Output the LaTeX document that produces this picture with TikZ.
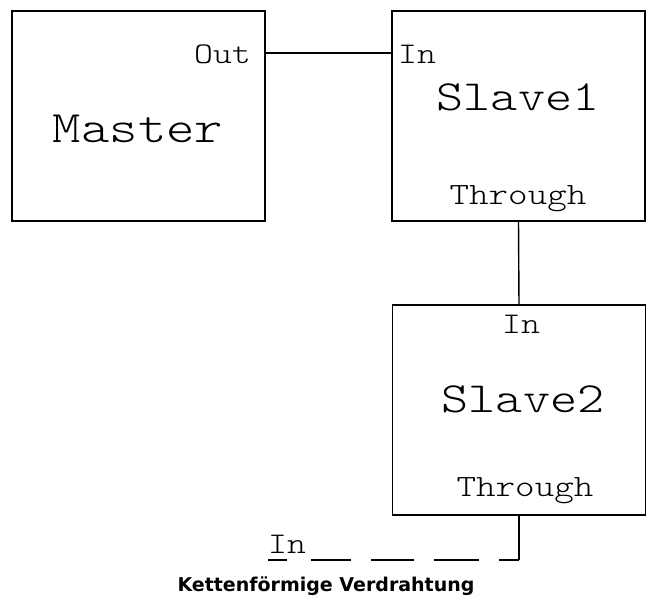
\documentclass[tikz,border=0pt]{standalone}
\usepackage{fontspec}
\newfontfamily\boxfont{lmmonolt10-regular.otf}[FakeStretch=1.2]
\newfontfamily\captionfont{DejaVu Sans}
\usetikzlibrary{calc}

\tikzset{
  unit/.style={draw, line width=1.5pt, minimum width=253pt, minimum height=210pt,
    inner sep=0pt, outer sep=0pt},
  port/.style={inner sep=0pt, font=\boxfont\fontsize{30}{30}\selectfont},
  title/.style={inner sep=0pt, anchor=base, font=\boxfont\fontsize{43}{43}\selectfont},
  wire/.style={line width=1.4pt},
}

\begin{document}
\begin{tikzpicture}[x=1pt, y=-1pt]
  \fill[white] (0,0) rectangle (651,600);
  \useasboundingbox (0,0) rectangle (651,600);

  % units of the daisy chain
  \node[unit] (master) at (138.5,116) {};
  \node[unit] (slave1) at (518.5,116) {};
  \node[unit] (slave2) at (519,410) {};

  % unit names
  \node[title, font=\boxfont\fontsize{45}{45}\selectfont] (mname) at (138,142) {Master};
  \node[title] (s1name) at (518,110) {Slave1};
  \node[title] (s2name) at (523,412) {Slave2};

  % port labels
  \node[port, anchor=base east] (mout) at (251,63) {Out};
  \node[port, anchor=base west] (s1in) at (398,63) {In};
  \node[port, anchor=base, font=\boxfont\fontsize{31}{31}\selectfont] (s1thr) at (518,204) {Through};
  \node[port, anchor=base] (s2in) at (521,333) {In};
  \node[port, anchor=base, font=\boxfont\fontsize{31}{31}\selectfont] (s2thr) at (525,496) {Through};
  \node[port, anchor=base west] (nextin) at (268,553) {In};

  % wiring
  \draw[wire] ($(master.north east)+(0,42)$) -- ($(slave1.north west)+(0,42)$);
  \draw[wire] (slave1.south) -- (slave2.north);
  \coordinate (corner) at (slave2.south |- 0,560);
  \coordinate (loose) at (nextin.west |- 0,560);
  \draw[wire] (slave2.south) -- (corner);
  \draw[wire, dash pattern=on 20pt off 20pt on 45pt off 20pt on 43pt off 20pt on 40pt off 24pt on 20pt]
    (corner) -- (loose);

  % caption
  \node[inner sep=0pt, anchor=base, font=\captionfont\bfseries\fontsize{19}{19}\selectfont]
    (caption) at (326,591) {Kettenförmige Verdrahtung};
\end{tikzpicture}
\end{document}
